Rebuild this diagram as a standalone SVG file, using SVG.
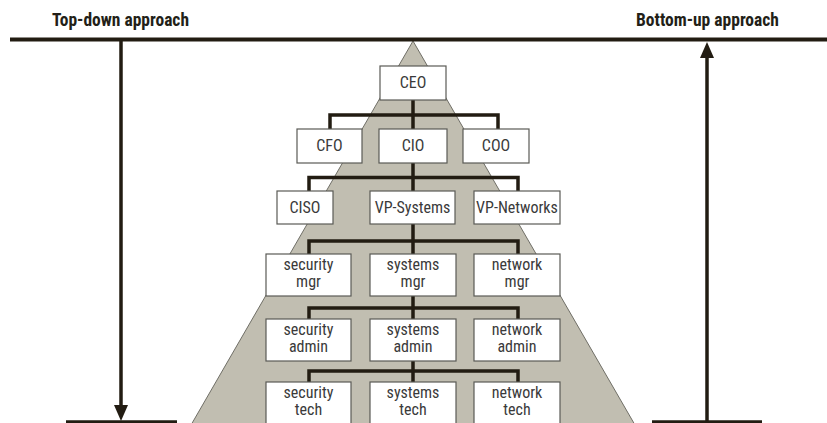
<svg xmlns="http://www.w3.org/2000/svg" width="827" height="423" viewBox="0 0 827 423">
<style>
.hdr{font-family:"Liberation Sans Narrow","Arial Narrow","Roboto Condensed","Liberation Sans",sans-serif;font-weight:bold;font-size:17.5px;fill:#231f18}
.lbl{font-family:"Liberation Sans Narrow","Arial Narrow","Roboto Condensed","Liberation Sans",sans-serif;font-size:16px;fill:#3a3a3a;text-anchor:middle}
.box{fill:#ffffff;stroke:#5a5a55;stroke-width:1.2}
.con{stroke:#221c12;stroke-width:3.5;fill:none}
.bar{stroke:#221c12;stroke-width:4;fill:none}
</style>
<rect width="827" height="423" fill="#ffffff"/>
<polygon points="413,41 191,425 635,425" fill="#c1beb1" stroke="#6f6e66" stroke-width="1"/>
<g id="frame">
<text class="hdr" x="52" y="26" textLength="137" lengthAdjust="spacingAndGlyphs">Top-down approach</text>
<text class="hdr" x="636" y="26" textLength="143" lengthAdjust="spacingAndGlyphs">Bottom-up approach</text>
<line class="bar" x1="10" y1="39.5" x2="827" y2="39.5"/>
<line class="con" x1="121" y1="40" x2="121" y2="407"/>
<polygon points="114,405 128,405 121,421" fill="#221c12"/>
<line class="con" x1="66" y1="422" x2="177" y2="422"/>
<line class="con" x1="707" y1="422" x2="707" y2="56"/>
<polygon points="700,58 714,58 707,42" fill="#221c12"/>
<line class="con" x1="652" y1="422" x2="762" y2="422"/>
</g>
<g id="connectors">
<path class="con" d="M413,100 V129 M330,129 V115 H498 V129"/>
<path class="con" d="M413,163 V191 M309,191 V177.5 H518 V191"/>
<path class="con" d="M413,224 V254 M309,254 V241 H518 V254"/>
<path class="con" d="M413,296 V319 M309,319 V308 H518 V319"/>
<path class="con" d="M413,361 V382 M309,382 V371 H518 V382"/>
</g>
<g id="ceo"><rect class="box" x="380" y="66" width="66" height="34"/><text class="lbl" x="413" y="88">CEO</text></g>
<g id="cfo"><rect class="box" x="297" y="129" width="65" height="34"/><text class="lbl" x="329.5" y="151">CFO</text></g>
<g id="cio"><rect class="box" x="379" y="129" width="68" height="34"/><text class="lbl" x="413" y="151">CIO</text></g>
<g id="coo"><rect class="box" x="463" y="129" width="66" height="34"/><text class="lbl" x="496" y="151">COO</text></g>
<g id="ciso"><rect class="box" x="277" y="191" width="56" height="33"/><text class="lbl" x="305" y="213">CISO</text></g>
<g id="vp-systems"><rect class="box" x="370" y="191" width="85" height="33"/><text class="lbl" x="412.5" y="213">VP-Systems</text></g>
<g id="vp-networks"><rect class="box" x="474" y="191" width="86" height="33"/><text class="lbl" x="517" y="213">VP-Networks</text></g>
<g id="security-mgr"><rect class="box" x="266" y="254" width="85" height="42"/><text class="lbl" x="308.5" y="270">security</text><text class="lbl" x="308.5" y="287">mgr</text></g>
<g id="systems-mgr"><rect class="box" x="370" y="254" width="86" height="42"/><text class="lbl" x="413" y="270">systems</text><text class="lbl" x="413" y="287">mgr</text></g>
<g id="network-mgr"><rect class="box" x="474" y="254" width="86" height="42"/><text class="lbl" x="517" y="270">network</text><text class="lbl" x="517" y="287">mgr</text></g>
<g id="security-admin"><rect class="box" x="266" y="319" width="85" height="42"/><text class="lbl" x="308.5" y="335">security</text><text class="lbl" x="308.5" y="352">admin</text></g>
<g id="systems-admin"><rect class="box" x="370" y="319" width="86" height="42"/><text class="lbl" x="413" y="335">systems</text><text class="lbl" x="413" y="352">admin</text></g>
<g id="network-admin"><rect class="box" x="474" y="319" width="86" height="42"/><text class="lbl" x="517" y="335">network</text><text class="lbl" x="517" y="352">admin</text></g>
<g id="security-tech"><rect class="box" x="266" y="382" width="85" height="50"/><text class="lbl" x="308.5" y="398">security</text><text class="lbl" x="308.5" y="415">tech</text></g>
<g id="systems-tech"><rect class="box" x="370" y="382" width="86" height="50"/><text class="lbl" x="413" y="398">systems</text><text class="lbl" x="413" y="415">tech</text></g>
<g id="network-tech"><rect class="box" x="474" y="382" width="86" height="50"/><text class="lbl" x="517" y="398">network</text><text class="lbl" x="517" y="415">tech</text></g>
</svg>
